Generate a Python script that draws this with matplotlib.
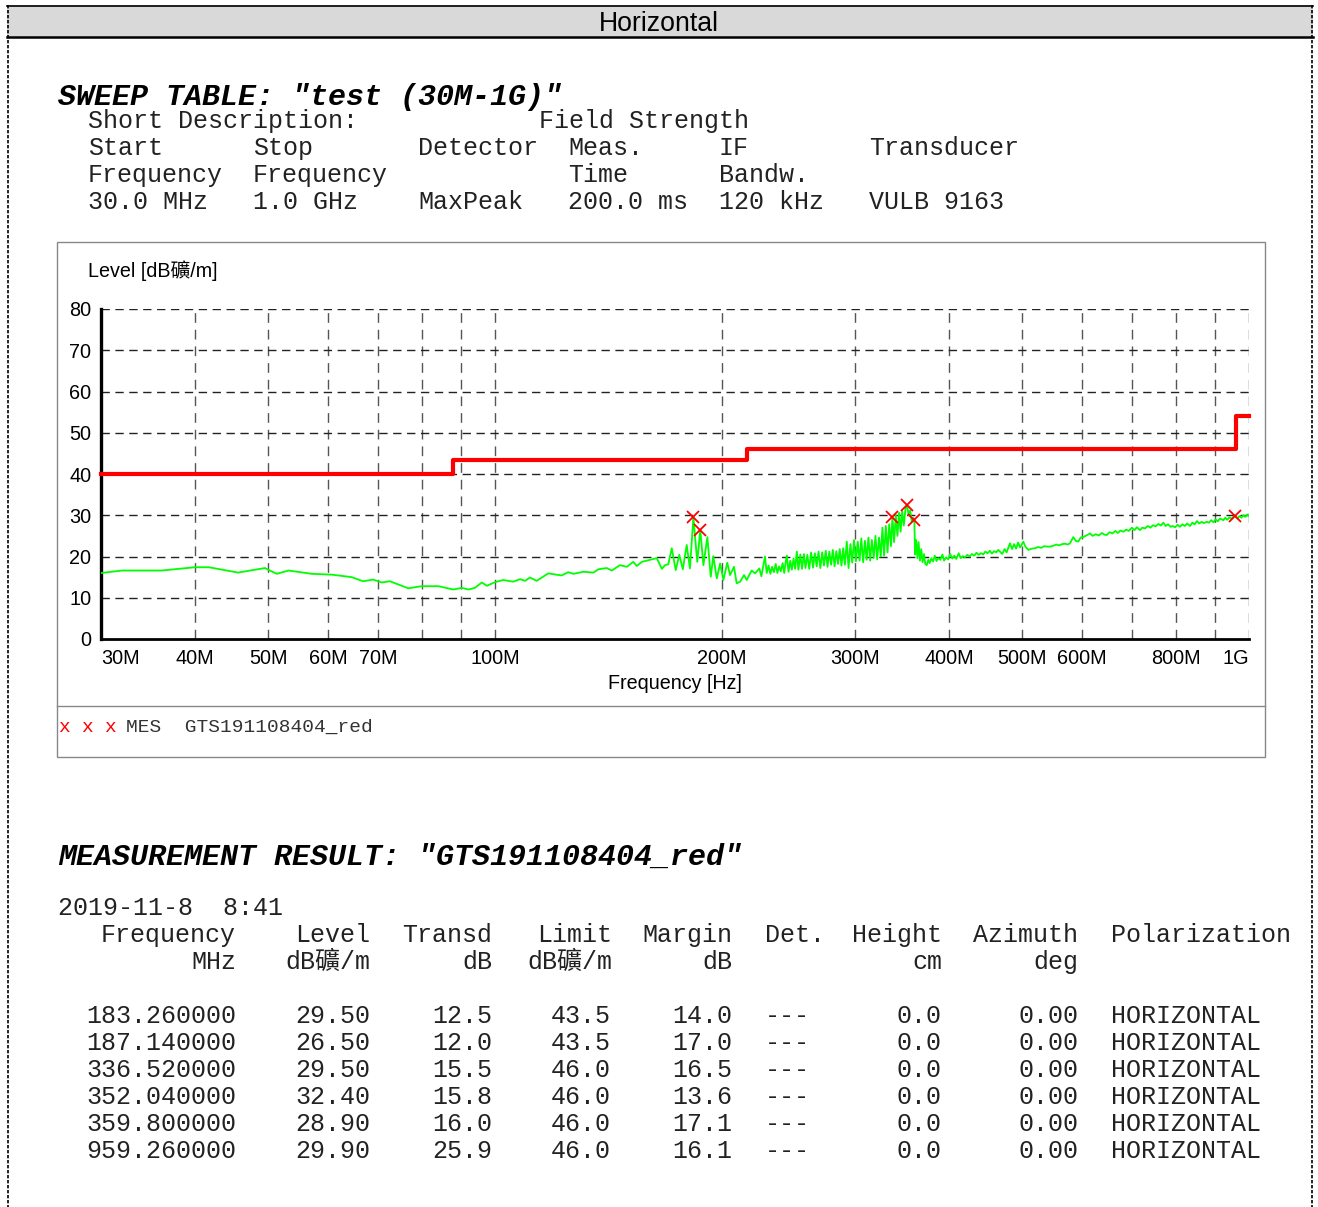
import numpy as np
import matplotlib
matplotlib.use('Agg')
import matplotlib.pyplot as plt
from matplotlib.lines import Line2D
from matplotlib.patches import Rectangle

# ---- data ----
trace_freq = [30.0, 32.0, 36.1, 40.0, 41.7, 45.6, 49.5, 51.3, 53.2, 57.1, 60.7, 64.5, 66.8, 68.9,
              70.7, 72.5, 76.7, 79.9, 84.1, 88.0, 90.3, 92.2, 94.0, 96.0, 97.5, 100.0,
              102.5, 105.7, 107.9, 109.6, 111.2, 113.5, 117.6, 122.5, 125.0, 127.0, 130.9, 135.0,
              137.0, 140.6, 142.8, 146.4, 149.5, 152.5, 154.1, 156.5, 163.8, 166.4, 168.0, 169.7,
              171.5, 173.6, 175.5, 177.4, 179.5, 181.3, 183.2, 185.4, 187.1, 188.9, 191.2, 193.2,
              194.7, 196.8, 198.8, 200.8, 203.2, 204.9, 207.4, 209.1, 211.3, 213.9, 215.6, 218.9,
              221.2, 224.1, 225.5, 227.0, 228.0, 229.2, 230.5, 231.8, 233.0, 234.3, 235.6, 236.8,
              238.0, 239.3, 240.6, 241.8, 243.0, 243.7, 245.0, 246.3, 247.5, 248.8, 250.0, 251.3,
              252.5, 254.0, 255.3, 256.8, 258.0, 259.5, 261.0, 262.5, 264.0, 265.5, 267.0, 268.5,
              270.0, 271.5, 273.0, 274.5, 276.0, 277.5, 279.0, 280.5, 282.0, 283.5, 285.0, 286.5,
              288.0, 289.5, 291.0, 292.7, 294.3, 296.0, 297.6, 299.3, 301.0, 302.7, 304.4, 306.0,
              307.7, 309.4, 311.0, 312.7, 314.4, 316.0, 317.8, 319.5, 321.2, 323.0, 324.7, 326.4,
              328.0, 329.8, 331.5, 333.2, 335.0, 336.5, 338.2, 340.0, 341.7, 343.4, 345.0, 346.7,
              348.4, 350.2, 352.0, 353.5, 355.2, 357.0, 358.5, 359.8, 360.6, 361.8, 363.2, 364.5,
              366.0, 367.5, 369.0, 370.5, 372.0, 373.7, 375.5, 377.0, 379.0, 381.0, 383.0, 385.0,
              387.0, 389.5, 392.0, 394.0, 396.5, 399.0, 401.4, 404.0, 406.5, 409.0, 412.0, 414.5,
              417.0, 420.0, 423.0, 426.0, 429.0, 432.0, 435.0, 438.0, 441.0, 444.0, 447.0, 450.0,
              453.3, 456.0, 459.0, 462.0, 465.0, 467.3, 470.5, 474.0, 477.0, 481.8, 485.0, 488.0,
              491.0, 494.0, 497.0, 501.9, 505.0, 509.8, 515.0, 520.0, 525.0, 530.0, 535.0, 540.0,
              544.7, 550.0, 555.0, 560.0, 565.0, 570.0, 575.0, 578.8, 584.7, 589.0, 593.7, 598.0,
              604.0, 610.0, 615.4, 620.0, 626.0, 632.0, 638.0, 643.0, 647.7, 653.0, 659.0, 665.0,
              670.0, 675.0, 681.2, 687.0, 693.0, 699.0, 705.0, 710.0, 716.7, 722.0, 728.0, 734.0,
              740.0, 746.0, 752.0, 758.0, 764.0, 769.8, 775.0, 781.0, 787.0, 792.0, 798.1, 804.0,
              810.0, 816.0, 822.0, 828.0, 835.2, 841.0, 847.0, 853.0, 859.0, 865.0, 871.0, 878.9,
              885.0, 891.0, 897.0, 903.0, 909.0, 915.0, 924.7, 930.0, 936.0, 942.0, 948.0, 954.0,
              959.3, 965.0, 971.0, 977.0, 983.0, 989.0, 995.0, 1000.0]
trace_level = [16.0, 16.6, 16.6, 17.4, 17.4, 16.1, 17.2, 15.8, 16.6, 15.8, 15.6, 15.0, 14.0, 14.4,
               13.7, 14.0, 12.3, 12.8, 12.8, 12.0, 12.4, 12.0, 12.4, 13.7, 12.9, 13.8,
               14.3, 13.9, 14.5, 14.1, 14.9, 14.1, 15.9, 15.4, 16.2, 15.8, 16.3, 16.1,
               16.9, 17.2, 16.6, 17.9, 17.5, 18.7, 17.7, 18.7, 19.6, 17.0, 17.9, 18.1,
               22.0, 16.7, 20.4, 16.9, 22.8, 17.1, 29.5, 18.7, 26.5, 17.9, 24.7, 15.1,
               20.1, 14.7, 18.3, 14.3, 18.5, 15.5, 17.5, 13.5, 13.9, 15.5, 14.3, 16.6,
               15.9, 17.1, 15.2, 18.0, 20.0, 16.0, 17.8, 15.8, 17.5, 16.2, 18.2, 16.0,
               17.6, 16.4, 18.4, 16.0, 19.0, 20.2, 16.3, 19.0, 16.8, 19.5, 17.0, 21.2,
               16.8, 20.5, 17.0, 20.6, 17.2, 20.4, 17.0, 21.0, 17.3, 20.8, 17.6, 21.2,
               17.2, 21.0, 17.8, 21.4, 17.5, 21.2, 18.0, 21.6, 17.6, 21.3, 18.2, 21.8,
               17.8, 22.0, 18.0, 23.6, 17.2, 23.0, 18.5, 24.0, 18.8, 23.6, 19.0, 24.4,
               18.6, 23.8, 19.2, 24.6, 19.0, 24.0, 19.6, 25.0, 19.3, 24.6, 20.0, 27.0,
               20.2, 27.4, 21.0, 27.8, 22.5, 29.5, 23.5, 30.0, 25.0, 30.6, 26.0, 31.0,
               27.5, 31.6, 32.4, 30.0, 31.2, 28.4, 29.4, 28.9, 20.5, 24.0, 19.6, 23.5,
               19.0, 21.8, 18.6, 20.6, 18.2, 17.9, 19.2, 18.4, 19.6, 18.8, 20.2, 18.9,
               19.6, 19.2, 20.5, 19.0, 19.8, 19.3, 20.6, 19.5, 20.2, 19.4, 20.8, 19.6,
               20.1, 19.8, 20.4, 20.0, 20.6, 20.2, 20.9, 20.4, 20.8, 20.5, 21.2, 20.8,
               21.4, 20.7, 21.3, 21.0, 21.6, 21.2, 20.6, 21.8, 21.0, 23.2, 21.8, 23.0,
               21.9, 23.4, 22.2, 23.6, 22.4, 21.6, 21.9, 22.0, 22.3, 22.1, 22.5, 22.4,
               22.4, 22.6, 22.9, 22.7, 23.0, 23.1, 22.9, 23.2, 24.7, 23.8, 23.6, 24.6,
               24.8, 25.2, 25.6, 25.0, 25.4, 25.1, 25.7, 25.3, 25.2, 25.9, 25.6, 26.2,
               25.7, 26.3, 26.0, 26.5, 26.2, 27.0, 26.4, 27.1, 26.4, 27.0, 26.8, 27.4,
               27.0, 27.6, 27.3, 27.9, 27.5, 28.2, 27.4, 27.8, 27.2, 27.4, 27.1, 27.7,
               27.2, 27.8, 27.4, 28.0, 27.4, 28.2, 27.8, 28.6, 28.0, 28.4, 28.1, 28.4,
               28.2, 28.8, 28.3, 29.0, 28.5, 29.2, 28.8, 29.4, 28.9, 29.5, 29.1, 29.7,
               29.9, 29.2, 29.8, 29.4, 30.0, 29.6, 30.2, 29.9]

limit_freq = [30, 88, 88, 216, 216, 960, 960, 1000]
limit_level = [40, 40, 43.5, 43.5, 46, 46, 54, 54]

# measured peaks (final result table)
res_freq = [183.26, 187.14, 336.52, 352.04, 359.80, 959.26]
res_level = [29.50, 26.50, 29.50, 32.40, 28.90, 29.90]
res_transd = [12.5, 12.0, 15.5, 15.8, 16.0, 25.9]
res_limit = [43.5, 43.5, 46.0, 46.0, 46.0, 46.0]
res_margin = [14.0, 17.0, 16.5, 13.6, 17.1, 16.1]
res_height = [0.0] * 6
res_azimuth = [0.00] * 6
res_pol = ['HORIZONTAL'] * 6

grid_freqs = [40, 50, 60, 70, 80, 90, 100, 200, 300, 400, 500, 600, 700, 800, 900, 1000]
tick_freqs = [30, 40, 50, 60, 70, 100, 200, 300, 400, 500, 600, 800, 1000]
tick_names = ['30M', '40M', '50M', '60M', '70M', '100M', '200M', '300M', '400M',
              '500M', '600M', '800M', '1G']

# ---- figure ----
W, H = 1318, 1207
fig = plt.figure(figsize=(W / 100, H / 100), dpi=100)
fig.patch.set_facecolor('white')

MONO = ['Liberation Mono', 'Noto Sans CJK TC']
SANS = ['Liberation Sans', 'Noto Sans CJK TC']
BODY = 18.0
HEAD = 21.6


def fx(x):
    return x / W


def fy(y):
    return 1 - y / H


def put(x, y, s, **kw):
    kw.setdefault('va', 'baseline')
    fig.text(fx(x), fy(y), s, **kw)


def hline(x0, x1, y, **kw):
    fig.add_artist(Line2D([fx(x0), fx(x1)], [fy(y), fy(y)], transform=fig.transFigure, **kw))


def vline(x, y0, y1, **kw):
    fig.add_artist(Line2D([fx(x), fx(x)], [fy(y0), fy(y1)], transform=fig.transFigure, **kw))


# page border and title bar
vline(8, 5, 1207, color='black', lw=1.2, ls=(0, (2, 1)))
vline(1312, 5, 1207, color='black', lw=1.2, ls=(0, (2, 1)))
fig.add_artist(Rectangle((fx(7), fy(37)), fx(1306), 32 / H, transform=fig.transFigure,
                         facecolor='#d9d9d9', edgecolor='none'))
hline(7, 1313, 5.5, color='black', lw=1.2)
hline(7, 1313, 37, color='black', lw=1.8)
put(659, 31, 'Horizontal', ha='center', fontsize=19.2, family=SANS, color='black')

# sweep table
put(58, 105, 'SWEEP TABLE: "test (30M-1G)"', fontsize=HEAD, family=MONO,
    weight='bold', style='italic', color='black')
sweep_rows = [
    (128, [(88, 'Short Description:'), (539, 'Field Strength')]),
    (155, [(88, 'Start'), (253, 'Stop'), (418, 'Detector'), (568, 'Meas.'), (719, 'IF'),
           (869, 'Transducer')]),
    (182, [(88, 'Frequency'), (253, 'Frequency'), (568, 'Time'), (719, 'Bandw.')]),
    (209, [(88, '30.0 MHz'), (253, '1.0 GHz'), (418, 'MaxPeak'), (568, '200.0 ms'),
           (719, '120 kHz'), (869, 'VULB 9163')]),
]
for yy, cells in sweep_rows:
    for xx, s in cells:
        put(xx, yy, s, fontsize=BODY, family=MONO, color='#222222')

# chart frame
fig.add_artist(Rectangle((fx(57), fy(757)), 1208 / W, 515 / H, transform=fig.transFigure,
                         facecolor='none', edgecolor='#888888', lw=1))
hline(57, 1265, 706, color='#888888', lw=1)
put(88, 277, 'Level [dB礦/m]', fontsize=14.2, family=SANS, color='black')

# the plot itself
ax = fig.add_axes([fx(101), fy(639), (1249 - 101) / W, (639 - 309) / H])
ax.set_xscale('log')
ax.set_xlim(30, 1000)
ax.set_ylim(0, 80)

for f in grid_freqs:
    ax.axvline(f, color='#555555', lw=1.0, ls=(0, (7, 5)), zorder=1)
for lv in range(10, 90, 10):
    ax.axhline(lv, color='#222222', lw=1.0, ls=(0, (6, 4)), zorder=1)

ax.plot(trace_freq, trace_level, color='#00ff00', lw=1.3, zorder=3)
ax.plot(limit_freq, limit_level, color='#ff0000', lw=3.0, zorder=4, clip_on=False)
ax.plot(res_freq, res_level, 'x', color='#ff0000', ms=8, mew=1.3, zorder=5)

for side in ['top', 'right']:
    ax.spines[side].set_visible(False)
ax.spines['left'].set_linewidth(2.4)
ax.spines['bottom'].set_linewidth(2.0)

ax.set_yticks(range(0, 90, 10))
ax.set_xticks(tick_freqs)
ax.set_xticklabels(tick_names)
ax.xaxis.set_minor_locator(matplotlib.ticker.NullLocator())
ax.tick_params(axis='both', length=0, labelsize=14.3)
ax.tick_params(axis='x', pad=7)
ax.tick_params(axis='y', pad=7)
for lab in ax.get_xticklabels() + ax.get_yticklabels():
    lab.set_family(SANS)
ax.get_xticklabels()[0].set_ha('left')
ax.get_xticklabels()[-1].set_ha('right')
ax.set_facecolor('none')

put(675, 689, 'Frequency [Hz]', ha='center', fontsize=14.2, family=SANS, color='black')

# legend line under the chart
for xx in [64, 87, 110]:
    put(xx, 732, 'x', ha='center', fontsize=14, family=MONO, color='#ff0000')
put(126, 732, 'MES  GTS191108404_red', fontsize=14, family=MONO, color='#333333')

# measurement result
put(58, 865, 'MEASUREMENT RESULT: "GTS191108404_red"', fontsize=HEAD, family=MONO,
    weight='bold', style='italic', color='black')
put(58, 915, '2019-11-8  8:41', fontsize=BODY, family=MONO, color='#222222')

head_right = [(236, 'Frequency', 'MHz'), (370, 'Level', 'dB礦/m'), (492, 'Transd', 'dB'),
              (612, 'Limit', 'dB礦/m'), (732, 'Margin', 'dB'), (942, 'Height', 'cm'),
              (1078, 'Azimuth', 'deg')]
for xx, top, bot in head_right:
    put(xx, 942, top, ha='right', fontsize=BODY, family=MONO, color='#222222')
    put(xx, 969, bot, ha='right', fontsize=BODY, family=MONO, color='#222222')
put(765, 942, 'Det.', fontsize=BODY, family=MONO, color='#222222')
put(1111, 942, 'Polarization', fontsize=BODY, family=MONO, color='#222222')

for i in range(len(res_freq)):
    yy = 1023 + 27 * i
    cells = [(236, '%.6f' % res_freq[i]), (370, '%.2f' % res_level[i]),
             (492, '%.1f' % res_transd[i]), (611, '%.1f' % res_limit[i]),
             (732, '%.1f' % res_margin[i]), (942, '%.1f' % res_height[i]),
             (1078, '%.2f' % res_azimuth[i])]
    for xx, s in cells:
        put(xx, yy, s, ha='right', fontsize=BODY, family=MONO, color='#222222')
    put(765, yy, '---', fontsize=BODY, family=MONO, color='#222222')
    put(1111, yy, res_pol[i], fontsize=BODY, family=MONO, color='#222222')

fig.savefig('out.png', dpi=100)
